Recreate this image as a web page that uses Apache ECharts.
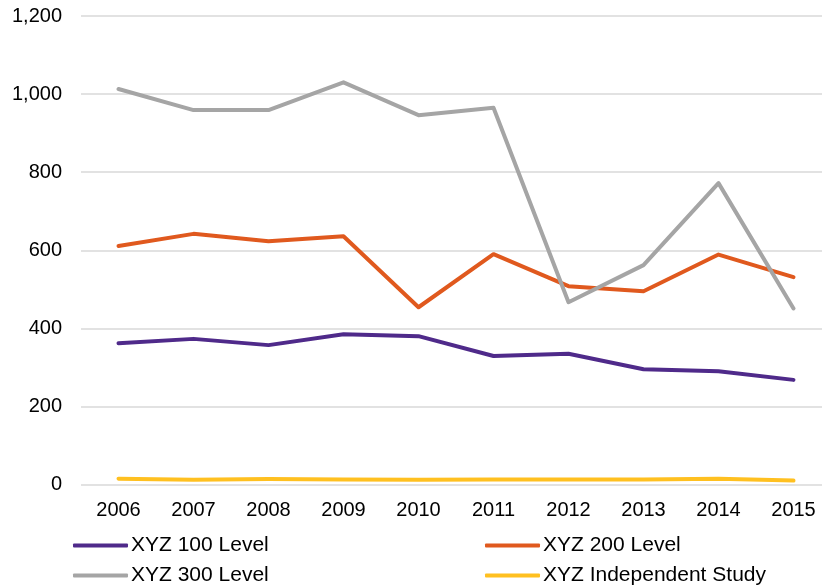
<!DOCTYPE html>
<html>
<head>
<meta charset="utf-8">
<style>
  html, body { margin: 0; padding: 0; background: #fff; }
  #chart { width: 822px; height: 588px; }
</style>
<script src="https://cdn.jsdelivr.net/npm/echarts@6/dist/echarts.min.js"></script>
</head>
<body>
<div id="chart"></div>
<script>
// 年份
const years = ['2006', '2007', '2008', '2009', '2010', '2011', '2012', '2013', '2014', '2015']

// 各级别数据
const level100 = [362, 373, 357, 385, 380, 329, 335, 295, 290, 268]
const level200 = [611, 642, 623, 636, 454, 590, 508, 495, 589, 531]
const level300 = [1013, 959, 959, 1030, 946, 965, 467, 562, 772, 451]
const independent = [15, 12, 14, 13, 12, 13, 13, 13, 15, 10]

const names = ['XYZ 100 Level', 'XYZ 200 Level', 'XYZ 300 Level', 'XYZ Independent Study']
const colors = ['#4F2A8A', '#E0591E', '#A5A5A5', '#FFC020']

const font = 'Liberation Sans, Arial, sans-serif'

const chart = echarts.init(document.getElementById('chart'), null, { renderer: 'canvas' })

const makeSeries = (name, data, color) => ({
  name,
  type: 'line',
  xAxisIndex: 1,
  yAxisIndex: 1,
  data,
  symbol: 'none',
  lineStyle: { color, width: 4, cap: 'round', join: 'round' },
  itemStyle: { color },
  animation: false
})

// 图例分两列
const legendBase = {
  orient: 'vertical',
  top: 535,
  height: 60,
  padding: 0,
  itemWidth: 55,
  itemHeight: 4,
  itemGap: 9,
  icon: 'roundRect',
  textStyle: { fontFamily: font, fontSize: 21, color: '#000', padding: [0, 0, 0, -2] }
}

const yBase = {
  type: 'value',
  min: 0,
  max: 1200,
  interval: 200,
  axisLine: { show: false },
  axisTick: { show: false }
}

const option = {
  backgroundColor: '#fff',
  // grid 0: 网格线和纵轴标签; grid 1: 折线
  grid: [
    { left: 81, right: 0, top: 16, bottom: 103.5 },
    { left: 118.5, right: 28.5, top: 16, bottom: 103.5 }
  ],
  legend: [
    { ...legendBase, left: 73, data: [names[0], names[2]] },
    { ...legendBase, left: 485, data: [names[1], names[3]] }
  ],
  xAxis: [
    {
      gridIndex: 0,
      type: 'category',
      data: years,
      show: false
    },
    {
      gridIndex: 1,
      type: 'category',
      data: years,
      boundaryGap: false,
      axisLine: { show: false },
      axisTick: { show: false },
      axisLabel: { fontFamily: font, fontSize: 20, color: '#000', margin: 16 }
    }
  ],
  yAxis: [
    {
      ...yBase,
      gridIndex: 0,
      splitLine: { lineStyle: { color: '#D9D9D9', width: 1.5 } },
      axisLabel: {
        fontFamily: font,
        fontSize: 20,
        color: '#000',
        margin: 19,
        formatter: v => v.toLocaleString('en-US')
      }
    },
    {
      ...yBase,
      gridIndex: 1,
      splitLine: { show: false },
      axisLabel: { show: false }
    }
  ],
  series: [
    makeSeries(names[0], level100, colors[0]),
    makeSeries(names[1], level200, colors[1]),
    makeSeries(names[2], level300, colors[2]),
    makeSeries(names[3], independent, colors[3])
  ]
}

chart.setOption(option)
</script>
</body>
</html>
